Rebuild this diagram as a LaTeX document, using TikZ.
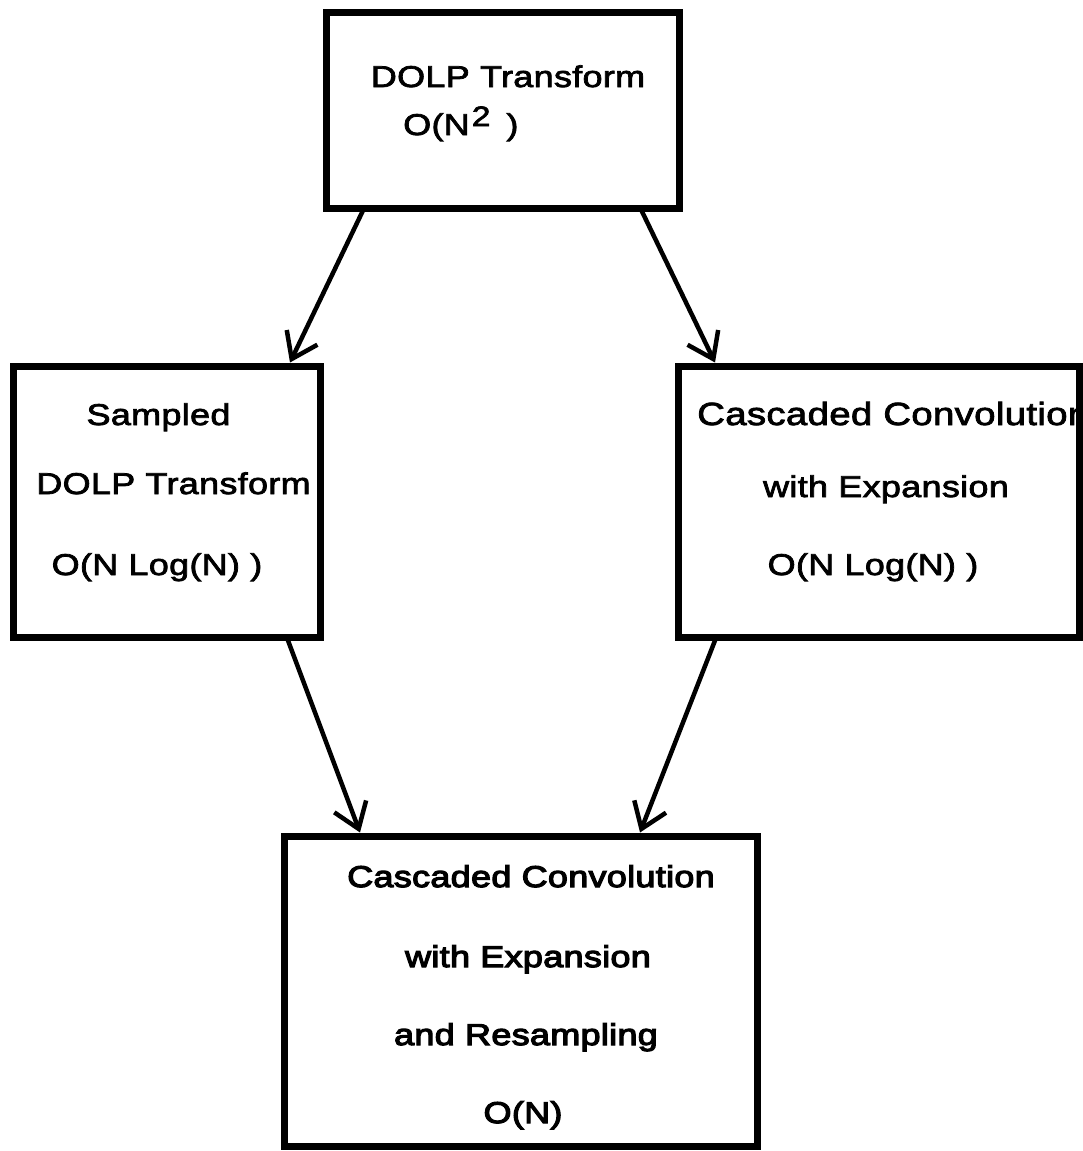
\documentclass[tikz,border=0pt]{standalone}
\usepackage{fontspec}
\setmainfont{Liberation Sans}[FakeStretch=1.2, LetterSpace=1, FakeBold=2.5]
\newfontfamily\heavyfont{Liberation Sans}[FakeStretch=1.2, LetterSpace=1, FakeBold=4]
\usetikzlibrary{arrows.meta}
\tikzset{
  box/.style={draw=black, line width=7pt, fill=none, rectangle, inner sep=0pt},
  lbl/.style={anchor=base, inner sep=0pt, font=\fontsize{30}{34}\selectfont},
  lblw/.style={anchor=base west, inner sep=0pt, font=\fontsize{30}{34}\selectfont},
  hlbl/.style={anchor=base, inner sep=0pt, font=\heavyfont\fontsize{30}{34}\selectfont},
  conn/.style={draw=black, line width=4.5pt, line cap=round, -{Straight Barb[length=24pt,width=34pt,line width=4.5pt]}}
}
\begin{document}
\begin{tikzpicture}[x=1pt,y=-1pt]
\useasboundingbox (0,0) rectangle (1082,1151);
\fill[white] (0,0) rectangle (1082,1151);
% text first (box border drawn over clipped text)
\node[lbl] (t1) at (508,87) {DOLP Transform};
\node[lblw] (t2) at (403,135) {O(N\hspace{2pt}\raisebox{9pt}{\fontsize{28}{30}\selectfont 2}\hspace{16pt})};
\node[lbl] (l1) at (158.5,425) {Sampled};
\node[lbl] (l2) at (173.5,494) {DOLP Transform};
\node[lbl] (l3) at (157,575) {O(N Log(N) )};
\node[lblw, font=\fontsize{32}{36}\selectfont] (r1) at (697,425) {Cascaded Convolution};
\node[lbl] (r2) at (886,497) {with Expansion};
\node[lbl] (r3) at (873,575) {O(N Log(N) )};
\node[hlbl] (b1) at (531,887) {Cascaded Convolution};
\node[hlbl] (b2) at (528,967) {with Expansion};
\node[hlbl] (b3) at (526,1045) {and Resampling};
\node[hlbl] (b4) at (523,1123) {O(N)};
% boxes
\node[box, minimum width=353pt, minimum height=196pt] (top) at (502.5,110) {};
\node[box, minimum width=307pt, minimum height=271pt] (left) at (166.5,501.5) {};
\node[box, minimum width=401pt, minimum height=271pt] (right) at (878.5,501.5) {};
\node[box, minimum width=473pt, minimum height=310pt] (bot) at (520.5,991) {};
% connectors
\draw[conn] ([xshift=-140pt]top.south) -- ([xshift=123.5pt]left.north);
\draw[conn] ([xshift=139.5pt]top.south) -- ([xshift=-163.5pt]right.north);
\draw[conn] ([xshift=121.5pt]left.south) -- ([xshift=-160.5pt]bot.north);
\draw[conn] ([xshift=-163.5pt]right.south) -- ([xshift=119.5pt]bot.north);
\end{tikzpicture}
\end{document}
